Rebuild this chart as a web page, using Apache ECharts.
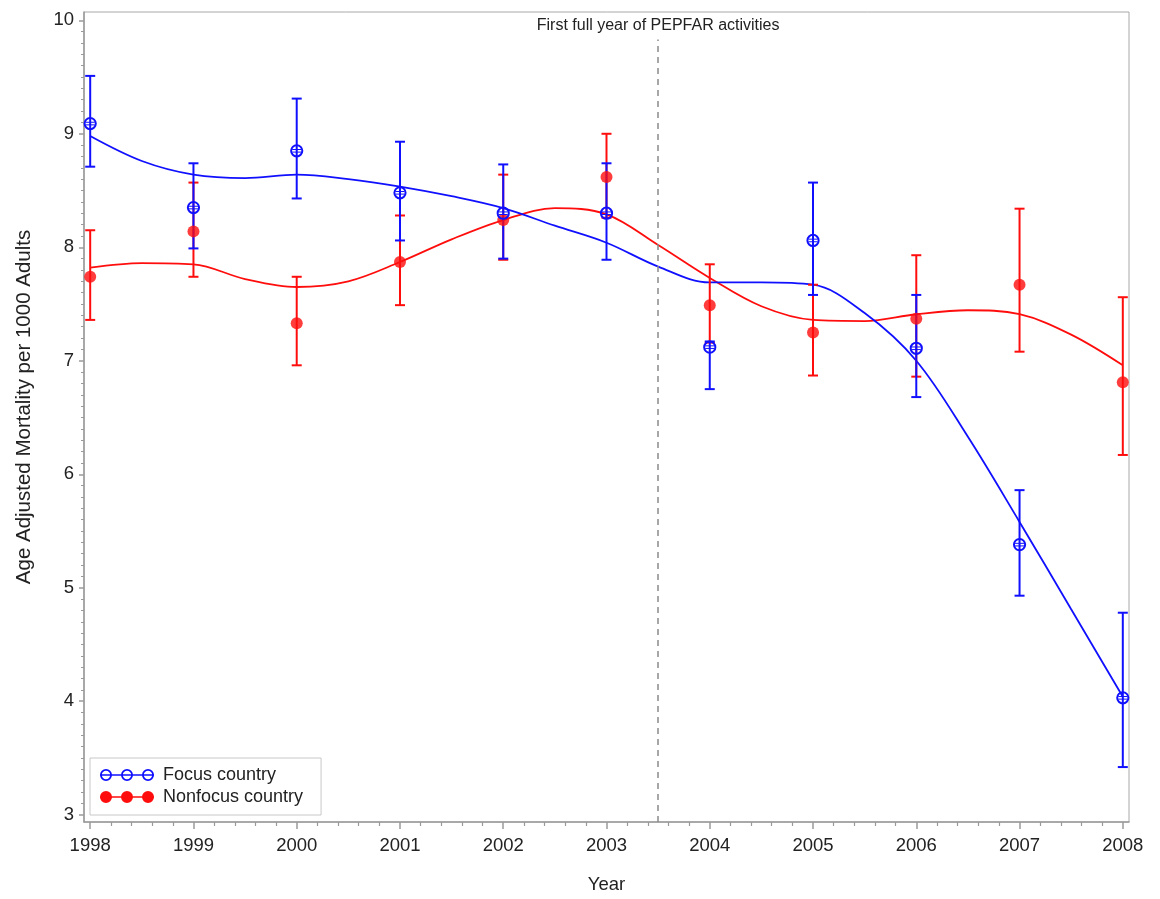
<!DOCTYPE html>
<html>
<head>
<meta charset="utf-8">
<script src="https://cdn.jsdelivr.net/npm/echarts@6/dist/echarts.min.js"></script>
<style>html,body{margin:0;padding:0;background:#fff}#c{width:1160px;height:899px}</style>
</head>
<body>
<div id="c"></div>
<script>
// ---- data ----
const years = [1998, 1999, 2000, 2001, 2002, 2003, 2004, 2005, 2006, 2007, 2008];
const focusMean  = [9.09, 8.35, 8.85, 8.48, 8.30, 8.30, 7.12, 8.06, 7.11, 5.38, 4.03];
const focusLower = [8.71, 7.99, 8.43, 8.06, 7.90, 7.89, 6.75, 7.58, 6.68, 4.93, 3.42];
const focusUpper = [9.51, 8.74, 9.31, 8.93, 8.73, 8.74, 7.17, 8.57, 7.58, 5.86, 4.78];
const nonMean  = [7.74, 8.14, 7.33, 7.87, 8.24, 8.62, 7.49, 7.25, 7.37, 7.67, 6.81];
const nonLower = [7.36, 7.74, 6.96, 7.49, 7.89, 8.26, 7.16, 6.87, 6.86, 7.08, 6.17];
const nonUpper = [8.15, 8.57, 7.74, 8.28, 8.64, 9.00, 7.85, 7.67, 7.93, 8.34, 7.56];
const fitX = [1998, 1998.5, 1999, 1999.5, 2000, 2000.5, 2001, 2001.5, 2002, 2002.5, 2003,
              2003.5, 2004, 2004.5, 2005, 2005.5, 2006, 2006.5, 2007, 2007.5, 2008];
const focusFit = [8.98, 8.76, 8.64, 8.61, 8.64, 8.60, 8.535, 8.45, 8.345, 8.19, 8.04,
                  7.83, 7.69, 7.69, 7.67, 7.42, 7.00, 6.33, 5.58, 4.81, 4.04];
const nonFit = [7.82, 7.86, 7.85, 7.72, 7.65, 7.70, 7.87, 8.07, 8.24, 8.345, 8.29,
                8.02, 7.73, 7.48, 7.36, 7.35, 7.41, 7.445, 7.41, 7.23, 6.96];
const xTicks = [1998, 1999, 2000, 2001, 2002, 2003, 2004, 2005, 2006, 2007, 2008];
const yTicks = [3, 4, 5, 6, 7, 8, 9, 10];
const refYear = 2003.5;
const refLabel = 'First full year of PEPFAR activities';
const seriesNames = ['Focus country', 'Nonfocus country'];
const xTitle = 'Year';
const yTitle = 'Age Adjusted Mortality per 1000 Adults';

// ---- styling ----
const BLUE = '#1010ff', RED = '#ff0d0d', AX = '#9a9a9a', TXT = '#222';
const FONT = '"Liberation Sans", Arial, sans-serif';
const xMin = 1997.94, xMax = 2008.06, yMin = 2.936, yMax = 10.073;

function errBar(color) {
  return function (params, api) {
    const x = api.value(0);
    const a = api.coord([x, api.value(1)]);
    const b = api.coord([x, api.value(2)]);
    const w = 5;
    const st = { stroke: color, lineWidth: 2 };
    return { type: 'group', children: [
      { type: 'line', shape: { x1: a[0], y1: a[1], x2: b[0], y2: b[1] }, style: st },
      { type: 'line', shape: { x1: a[0] - w, y1: a[1], x2: a[0] + w, y2: a[1] }, style: st },
      { type: 'line', shape: { x1: b[0] - w, y1: b[1], x2: b[0] + w, y2: b[1] }, style: st }
    ]};
  };
}
function focusMarker(params, api) {
  const p = api.coord([api.value(0), api.value(1)]);
  return { type: 'group', children: [
    { type: 'circle', shape: { cx: p[0], cy: p[1], r: 5.6 }, style: { stroke: BLUE, lineWidth: 2, fill: 'rgba(0,0,0,0)' } },
    { type: 'line', shape: { x1: p[0] - 4.5, y1: p[1] - 1.3, x2: p[0] + 4.5, y2: p[1] - 1.3 }, style: { stroke: BLUE, lineWidth: 1 } },
    { type: 'line', shape: { x1: p[0] - 4.5, y1: p[1] + 1.3, x2: p[0] + 4.5, y2: p[1] + 1.3 }, style: { stroke: BLUE, lineWidth: 1 } }
  ]};
}

const ringIcon = 'path://M0,5.2H54V6.8H0Z' +
  'M0,6A6,6 0 1 1 12,6A6,6 0 1 1 0,6Z M1.8,6A4.2,4.2 0 1 0 10.2,6A4.2,4.2 0 1 0 1.8,6Z' +
  'M21,6A6,6 0 1 1 33,6A6,6 0 1 1 21,6Z M22.8,6A4.2,4.2 0 1 0 31.2,6A4.2,4.2 0 1 0 22.8,6Z' +
  'M42,6A6,6 0 1 1 54,6A6,6 0 1 1 42,6Z M43.8,6A4.2,4.2 0 1 0 52.2,6A4.2,4.2 0 1 0 43.8,6Z';
const dotIcon = 'path://M0,5.2H54V6.8H0Z' +
  'M0,6A6,6 0 1 1 12,6A6,6 0 1 1 0,6Z' +
  'M21,6A6,6 0 1 1 33,6A6,6 0 1 1 21,6Z' +
  'M42,6A6,6 0 1 1 54,6A6,6 0 1 1 42,6Z';

const chart = echarts.init(document.getElementById('c'), null, { renderer: 'canvas' });
chart.setOption({
  animation: false,
  backgroundColor: '#fff',
  textStyle: { fontFamily: FONT, color: TXT },
  grid: { left: 84, right: 31, top: 12, bottom: 75, show: true, borderColor: '#a8a8a8', borderWidth: 1, containLabel: false },
  legend: {
    left: 90, top: 758, orient: 'vertical',
    padding: [8, 18, 9, 10], itemGap: 4,
    itemWidth: 54, itemHeight: 12,
    borderColor: '#c8c8c8', borderWidth: 1,
    textStyle: { fontSize: 18, color: TXT, fontFamily: FONT, padding: [0, 0, 0, 4] },
    itemStyle: { borderWidth: 0 },
    data: [
      { name: seriesNames[0], icon: ringIcon, itemStyle: { color: BLUE, borderWidth: 0 } },
      { name: seriesNames[1], icon: dotIcon, itemStyle: { color: RED, borderWidth: 0 } }
    ]
  },
  xAxis: {
    type: 'value', min: xMin, max: xMax, splitNumber: 10,
    name: xTitle, nameLocation: 'middle', nameGap: 53,
    nameTextStyle: { fontSize: 18.5, color: TXT, fontFamily: FONT },
    axisLine: { show: true, lineStyle: { color: AX, width: 1.5 } },
    axisTick: { show: true, length: 7, customValues: xTicks, lineStyle: { color: AX, width: 1.5 } },
    minorTick: { show: true, splitNumber: 5, length: 4, lineStyle: { color: AX, width: 1.2 } },
    axisLabel: { customValues: xTicks, fontSize: 18.5, color: TXT, margin: 14, fontFamily: FONT, formatter: v => String(v) },
    splitLine: { show: false }
  },
  yAxis: {
    type: 'value', min: yMin, max: yMax,
    name: yTitle, nameLocation: 'middle', nameGap: 49,
    nameTextStyle: { fontSize: 20.5, color: TXT, fontFamily: FONT, padding: [0, 0, 0, 20] },
    axisLine: { show: true, lineStyle: { color: AX, width: 1.5 } },
    axisTick: { show: true, length: 5, customValues: yTicks, lineStyle: { color: AX, width: 1.5 } },
    minorTick: { show: true, splitNumber: 10, length: 3, lineStyle: { color: AX, width: 1 } },
    axisLabel: { customValues: yTicks, fontSize: 18.5, color: TXT, margin: 10, fontFamily: FONT, formatter: v => String(v) },
    splitLine: { show: false }
  },
  series: [
    {
      name: 'refline', type: 'line', data: [], silent: true,
      markLine: {
        silent: true, symbol: ['none', 'none'],
        lineStyle: { color: '#8a8a8a', type: [6, 5], width: 1.5 },
        label: { show: true, position: 'end', formatter: refLabel, fontSize: 16, color: TXT, fontFamily: FONT, distance: 6 },
        data: [[{ coord: [refYear, yMin] }, { coord: [refYear, 9.83] }]]
      }
    },
    {
      name: seriesNames[1], type: 'line', data: fitX.map((x, i) => [x, nonFit[i]]),
      smooth: 0.35, showSymbol: false, symbol: 'none', z: 3,
      lineStyle: { color: RED, width: 1.8 }, itemStyle: { color: RED }
    },
    {
      name: seriesNames[0], type: 'line', data: fitX.map((x, i) => [x, focusFit[i]]),
      smooth: 0.35, showSymbol: false, symbol: 'none', z: 3,
      lineStyle: { color: BLUE, width: 1.8 }, itemStyle: { color: BLUE }
    },
    {
      name: 'nonErr', type: 'custom', renderItem: errBar(RED), z: 4,
      encode: { x: 0, y: [1, 2] },
      data: years.map((y, i) => [y, nonLower[i], nonUpper[i]])
    },
    {
      name: 'focusErr', type: 'custom', renderItem: errBar(BLUE), z: 5,
      encode: { x: 0, y: [1, 2] },
      data: years.map((y, i) => [y, focusLower[i], focusUpper[i]])
    },
    {
      name: 'nonPts', type: 'scatter', z: 6, symbol: 'circle', symbolSize: 12,
      itemStyle: { color: RED },
      data: years.map((y, i) => [y, nonMean[i]])
    },
    {
      name: 'focusPts', type: 'custom', renderItem: focusMarker, z: 7,
      encode: { x: 0, y: 1 },
      data: years.map((y, i) => [y, focusMean[i]])
    }
  ]
});
</script>
</body>
</html>
